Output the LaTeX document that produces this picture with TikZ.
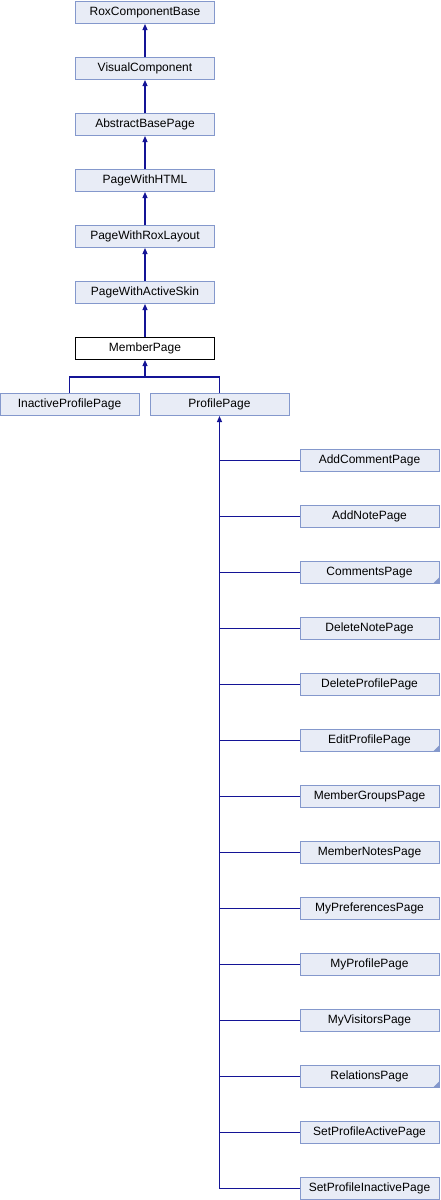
\documentclass[tikz,border=0pt]{standalone}
\usepackage{fontspec}
\setmainfont{Liberation Sans}
\usepackage{xcolor}
\usepackage{tikz}
\usetikzlibrary{arrows.meta, positioning, calc}
\definecolor{classfill}{RGB}{232, 236, 246}
\definecolor{classedge}{RGB}{132, 152, 204}
\definecolor{linkblue}{RGB}{20, 20, 150}

\begin{document}
\begin{tikzpicture}[
    every node/.style={font=\fontsize{12}{14}\selectfont},
    classbox/.style={rectangle, draw=classedge, fill=classfill, line width=1pt, minimum width=139pt, minimum height=22pt, inner sep=0pt, align=center},
    current/.style={classbox, draw=black, fill=white},
    marked/.style={path picture={\fill[classedge] (path picture bounding box.south east) -- ++(-6pt,0) -- ++(6pt,6pt) -- cycle;}},
    link/.style={draw=linkblue, line width=1.1pt},
    inherit/.style={link, -{Triangle[length=6pt, width=5pt]}}
]
\useasboundingbox (0,0) rectangle (440pt,-1200pt);
% base chain
\node[classbox] (roxbase) at (145pt,-12.5pt) {RoxComponentBase};
\node[classbox, below=33pt of roxbase] (visual) {VisualComponent};
\node[classbox, below=33pt of visual] (abstract) {AbstractBasePage};
\node[classbox, below=33pt of abstract] (withhtml) {PageWithHTML};
\node[classbox, below=33pt of withhtml] (withlayout) {PageWithRoxLayout};
\node[classbox, below=33pt of withlayout] (withskin) {PageWithActiveSkin};
\node[current, below=33pt of withskin] (member) {MemberPage};
% direct subclasses
\node[classbox] (inactive) at (69.5pt,-404.5pt) {InactiveProfilePage};
\node[classbox] (profile) at (219.5pt,-404.5pt) {ProfilePage};
% profile subclasses
\node[classbox] (addcomment) at (369.5pt,-460.5pt) {AddCommentPage};
\node[classbox, below=33pt of addcomment] (addnote) {AddNotePage};
\node[classbox, marked, below=33pt of addnote] (comments) {CommentsPage};
\node[classbox, below=33pt of comments] (deletenote) {DeleteNotePage};
\node[classbox, below=33pt of deletenote] (deleteprofile) {DeleteProfilePage};
\node[classbox, marked, below=33pt of deleteprofile] (editprofile) {EditProfilePage};
\node[classbox, below=33pt of editprofile] (groups) {MemberGroupsPage};
\node[classbox, below=33pt of groups] (notes) {MemberNotesPage};
\node[classbox, below=33pt of notes] (prefs) {MyPreferencesPage};
\node[classbox, below=33pt of prefs] (myprofile) {MyProfilePage};
\node[classbox, below=33pt of myprofile] (visitors) {MyVisitorsPage};
\node[classbox, marked, below=33pt of visitors] (relations) {RelationsPage};
\node[classbox, below=33pt of relations] (setactive) {SetProfileActivePage};
\node[classbox, below=33pt of setactive] (setinactive) {SetProfileInactivePage};
% chain arrows
\draw[inherit] (visual) -- (roxbase);
\draw[inherit] (abstract) -- (visual);
\draw[inherit] (withhtml) -- (abstract);
\draw[inherit] (withlayout) -- (withhtml);
\draw[inherit] (withskin) -- (withlayout);
\draw[inherit] (member) -- (withskin);
% fork below MemberPage
\coordinate (fork) at ($(member.south)+(0,-17pt)$);
\draw[link] (inactive.north) |- (fork);
\draw[link] (profile.north) |- (fork);
\draw[inherit] (fork) -- (member.south);
% spine below ProfilePage
\coordinate (spineend) at (profile.south |- setinactive.west);
\draw[inherit] (spineend) -- (profile.south);
\draw[link] (addcomment.west) -- (addcomment.west -| spineend);
\draw[link] (addnote.west) -- (addnote.west -| spineend);
\draw[link] (comments.west) -- (comments.west -| spineend);
\draw[link] (deletenote.west) -- (deletenote.west -| spineend);
\draw[link] (deleteprofile.west) -- (deleteprofile.west -| spineend);
\draw[link] (editprofile.west) -- (editprofile.west -| spineend);
\draw[link] (groups.west) -- (groups.west -| spineend);
\draw[link] (notes.west) -- (notes.west -| spineend);
\draw[link] (prefs.west) -- (prefs.west -| spineend);
\draw[link] (myprofile.west) -- (myprofile.west -| spineend);
\draw[link] (visitors.west) -- (visitors.west -| spineend);
\draw[link] (relations.west) -- (relations.west -| spineend);
\draw[link] (setactive.west) -- (setactive.west -| spineend);
\draw[link] (setinactive.west) -- (spineend);
\end{tikzpicture}
\end{document}
